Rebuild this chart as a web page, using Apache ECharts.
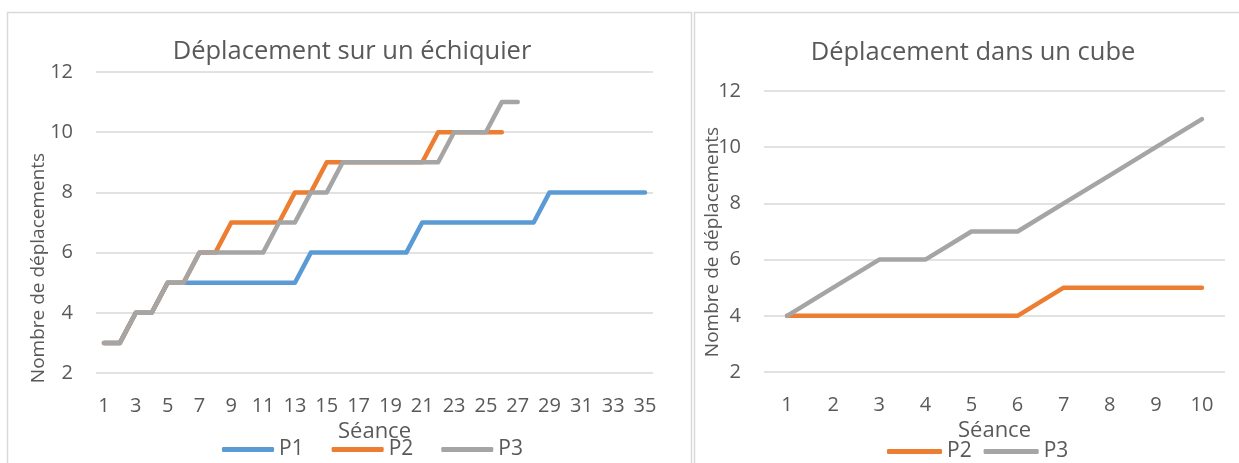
<!DOCTYPE html>
<html>
<head>
<meta charset="utf-8">
<script src="https://cdn.jsdelivr.net/npm/echarts@6/dist/echarts.min.js"></script>
<style>
html,body{margin:0;padding:0;background:#fff;}
#c{width:1239px;height:463px;}
</style>
</head>
<body>
<div id="c"></div>
<script>
// ---- Data ----
const seancesEchiquier = ['1','2','3','4','5','6','7','8','9','10','11','12','13','14','15','16','17','18','19','20','21','22','23','24','25','26','27','28','29','30','31','32','33','34','35'];
const echiquierP1 = [3,3,4,4,5,5,5,5,5,5,5,5,5,6,6,6,6,6,6,6,7,7,7,7,7,7,7,7,8,8,8,8,8,8,8];
const echiquierP2 = [3,3,4,4,5,5,6,6,7,7,7,7,8,8,9,9,9,9,9,9,9,10,10,10,10,10];
const echiquierP3 = [3,3,4,4,5,5,6,6,6,6,6,7,7,8,8,9,9,9,9,9,9,9,10,10,10,11,11];

const seancesCube = ['1','2','3','4','5','6','7','8','9','10'];
const cubeP2 = [4,4,4,4,4,4,5,5,5,5];
const cubeP3 = [4,5,6,6,7,7,8,9,10,11];

const titles = ['Déplacement sur un échiquier', 'Déplacement dans un cube'];
const xAxisTitle = 'Séance';
const yAxisTitle = 'Nombre de déplacements';
const yMin = 2, yMax = 12, yStep = 2;

// ---- Styles ----
const FONT = '"Open Sans", "Noto Sans", sans-serif';
const TXT = '#595959';
const GRIDC = '#d9d9d9';
const C_P1 = '#5B9BD5', C_P2 = '#ED7D31', C_P3 = '#A5A5A5';

function xAx(gridIndex, data, interval) {
  return {
    type: 'category', gridIndex, data, boundaryGap: true,
    axisLine: {show: false}, axisTick: {show: false},
    axisLabel: {interval, margin: 23, fontSize: 20, color: TXT, fontFamily: FONT},
    name: xAxisTitle, nameLocation: 'middle', nameGap: 39,
    nameTextStyle: {fontSize: 22, color: TXT, fontFamily: FONT}
  };
}
function yAx(gridIndex) {
  return {
    type: 'value', gridIndex, min: yMin, max: yMax, interval: yStep,
    axisLine: {show: false}, axisTick: {show: false},
    splitLine: {lineStyle: {color: GRIDC, width: 1.5}},
    axisLabel: {margin: 23, fontSize: 20, color: TXT, fontFamily: FONT}
  };
}
function ser(name, data, color, idx) {
  return {
    name, type: 'line', data, xAxisIndex: idx, yAxisIndex: idx,
    symbol: 'none', smooth: false, color,
    lineStyle: {color, width: 4.5, cap: 'round', join: 'round'},
    emphasis: {disabled: true}
  };
}
const legendText = {fontSize: 21, color: TXT, fontFamily: FONT};

const chart = echarts.init(document.getElementById('c'), null, {renderer: 'canvas'});
chart.setOption({
  animation: false,
  backgroundColor: '#ffffff',
  textStyle: {fontFamily: FONT},
  title: [
    {text: titles[0], left: 352, top: 52, textAlign: 'center', textVerticalAlign: 'middle', padding: 0,
     textStyle: {fontSize: 25.5, fontWeight: 'normal', color: TXT, fontFamily: FONT}},
    {text: titles[1], left: 973, top: 53, textAlign: 'center', textVerticalAlign: 'middle', padding: 0,
     textStyle: {fontSize: 25.5, fontWeight: 'normal', color: TXT, fontFamily: FONT}}
  ],
  grid: [
    {left: 96, top: 72, width: 557, height: 301},
    {left: 764, top: 91, width: 461, height: 281}
  ],
  xAxis: [xAx(0, seancesEchiquier, 1), xAx(1, seancesCube, 0)],
  yAxis: [yAx(0), yAx(1)],
  legend: [
    {data: ['P1','P2','P3'], left: 222, top: 439, icon: 'roundRect', itemWidth: 52, itemHeight: 5, itemGap: 28, padding: 0,
     textStyle: legendText, selectedMode: false},
    {data: ['P2','P3'], left: 887, top: 441, icon: 'roundRect', itemWidth: 55, itemHeight: 5, itemGap: 12, padding: 0,
     textStyle: legendText, selectedMode: false}
  ],
  graphic: [
    {type: 'rect', shape: {x: 7.5, y: 12.5, width: 684, height: 470}, style: {fill: null, stroke: GRIDC, lineWidth: 1.5}, silent: true},
    {type: 'rect', shape: {x: 694.5, y: 12.5, width: 570, height: 470}, style: {fill: null, stroke: GRIDC, lineWidth: 1.5}, silent: true},
    {type: 'text', x: 39, y: 268, rotation: Math.PI / 2, silent: true,
     style: {text: yAxisTitle, fill: TXT, font: '19px ' + FONT, align: 'center', verticalAlign: 'middle'}},
    {type: 'text', x: 713, y: 242, rotation: Math.PI / 2, silent: true,
     style: {text: yAxisTitle, fill: TXT, font: '19px ' + FONT, align: 'center', verticalAlign: 'middle'}}
  ],
  series: [
    ser('P1', echiquierP1, C_P1, 0),
    ser('P2', echiquierP2, C_P2, 0),
    ser('P3', echiquierP3, C_P3, 0),
    ser('P2', cubeP2, C_P2, 1),
    ser('P3', cubeP3, C_P3, 1)
  ]
});
</script>
</body>
</html>
